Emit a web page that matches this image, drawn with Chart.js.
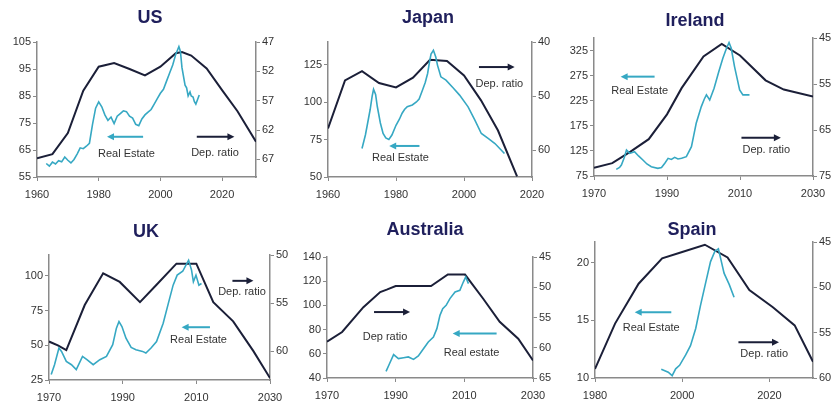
<!DOCTYPE html>
<html>
<head>
<meta charset="utf-8">
<script src="https://cdn.jsdelivr.net/npm/chart.js@4.4.1/dist/chart.umd.min.js"></script>
<style>
html, body { margin: 0; padding: 0; background: #fff; }
body { width: 835px; height: 401px; position: relative; overflow: hidden; }
canvas { position: absolute; }
</style>
</head>
<body>
<canvas id="us" width="300" height="209" style="left:0;top:0"></canvas>
<canvas id="japan" width="296" height="209" style="left:280px;top:0"></canvas>
<canvas id="ireland" width="280" height="208" style="left:555px;top:0"></canvas>
<canvas id="uk" width="292" height="212" style="left:0;top:200px"></canvas>
<canvas id="australia" width="266" height="210" style="left:292px;top:200px"></canvas>
<canvas id="spain" width="286" height="210" style="left:549px;top:200px"></canvas>
<script>
// dependency ratio (right axis, inverted) and real estate index (left axis)
var usDepYears = [1960, 1965, 1970, 1975, 1980, 1985, 1990, 1995, 2000, 2005, 2007, 2010, 2015, 2020, 2025, 2031];
var usDep = [66.8, 66.1, 62.5, 55.3, 51.2, 50.6, 51.6, 52.7, 51.2, 48.9, 48.7, 49.3, 51.5, 55.2, 58.8, 64.0];
var usRealEstate = [[1963, 60.0], [1964, 59.0], [1965, 60.5], [1966, 59.8], [1967, 61.0], [1968, 60.6], [1969, 62.4],
    [1970, 61.2], [1971, 60.2], [1972, 61.5], [1973, 63.5], [1974, 65.8], [1975, 65.5], [1976, 66.4], [1977, 67.5],
    [1978, 74.5], [1979, 80.5], [1980, 82.8], [1981, 81.0], [1982, 78.0], [1983, 76.0], [1984, 77.2], [1985, 74.8],
    [1986, 77.5], [1987, 78.5], [1988, 79.5], [1989, 79.2], [1990, 77.5], [1991, 76.8], [1992, 74.5], [1993, 74.0],
    [1994, 76.5], [1995, 78.0], [1996, 79.0], [1997, 80.0], [1998, 82.0], [1999, 84.0], [2000, 86.0], [2001, 87.5],
    [2002, 90.5], [2003, 93.5], [2004, 96.5], [2005, 100.5], [2006, 103.3], [2006.5, 101.5], [2007, 95.5],
    [2008, 89.0], [2008.5, 88.0], [2009, 85.0], [2009.6, 86.5], [2010, 85.0], [2010.6, 84.6], [2011, 83.0],
    [2011.5, 82.0], [2012, 83.5], [2012.6, 85.4]];

var jpDepYears = [1960, 1965, 1970, 1975, 1980, 1985, 1990, 1995, 2000, 2005, 2010, 2015.6];
var jpDep = [56.0, 47.1, 45.4, 47.6, 48.4, 46.6, 43.3, 43.5, 46.2, 50.8, 56.4, 64.9];
var jpRealEstate = [[1970, 69], [1971, 78], [1971.5, 84], [1972.4, 95], [1973, 104], [1973.4, 108.5], [1974, 105],
    [1974.5, 97], [1975.4, 86], [1976.2, 79], [1977, 76], [1977.9, 75], [1978.8, 78], [1980, 84.5], [1981, 88.5],
    [1981.8, 92.5], [1982.5, 95], [1983.3, 96.8], [1984.8, 98], [1986, 100], [1986.8, 102], [1987.8, 108],
    [1988.6, 113], [1989.3, 119], [1989.8, 126], [1990.3, 132], [1991, 134.5], [1991.7, 130], [1992.2, 124.6],
    [1993.2, 116.8], [1994.7, 114.6], [1996.7, 109.7], [1998.7, 104.6], [2001.2, 96.8], [2003.2, 87.9],
    [2005.1, 79], [2007.1, 75.7], [2009.1, 72.3], [2010.5, 69], [2011.9, 65.7]];

var ieDepYears = [1970, 1975, 1980, 1985, 1990, 1994, 2000, 2005, 2010, 2017, 2022, 2030];
var ieDep = [73.2, 72.2, 69.7, 67.0, 61.6, 55.9, 49.0, 46.3, 48.8, 54.2, 56.2, 57.7];
var ieRealEstate = [[1976.1, 88.3], [1977, 92], [1977.5, 96.9], [1978.3, 112], [1978.9, 126.9], [1979.8, 120],
    [1981.1, 123.5], [1982.2, 115], [1983.4, 106.9], [1984.5, 99], [1985.7, 93.6], [1987.5, 90.3], [1988.5, 92],
    [1989.4, 100.3], [1990.3, 110.2], [1991.2, 108], [1992.1, 112.2], [1993, 109], [1994, 110.2], [1995.3, 113.6],
    [1996.7, 133.5], [1997.3, 155], [1998, 180], [1999.4, 213.3], [2000.2, 228], [2000.8, 236.6], [2001.7, 226.6],
    [2002.9, 249.9], [2004.2, 283.1], [2005.3, 309.7], [2006.3, 329.6], [2007, 341], [2007.6, 329.6],
    [2008.5, 293], [2009.3, 266.5], [2009.9, 246.5], [2010.8, 236.6], [2012.6, 236.6]];

var ukDepYears = [1970, 1972.4, 1974.7, 1979.7, 1984.7, 1989.2, 1994.7, 1999.2, 2004.6, 2010, 2014.6, 2020, 2025.5, 2030];
var ukDep = [59.0, 59.4, 59.9, 55.2, 51.9, 52.8, 54.9, 53.1, 50.9, 50.9, 54.9, 56.9, 60.0, 62.8];
var ukRealEstate = [[1970.6, 28.9], [1971.5, 36], [1972.7, 48], [1973.4, 45.6], [1974.7, 38.4], [1976.1, 36],
    [1977.4, 32.5], [1979.1, 42], [1980.3, 39.6], [1982, 36], [1983.8, 39.6], [1985.6, 42], [1987.3, 50.4],
    [1988.3, 62.3], [1989, 67.1], [1989.8, 63.5], [1990.9, 55.1], [1992.3, 48.4], [1993.6, 46.8], [1995.4, 45.6],
    [1996.3, 44.4], [1997.7, 48], [1999.2, 52.7], [2001, 65.9], [2002.4, 80.2], [2003.7, 93.3], [2004.8, 100.5],
    [2006.3, 103.3], [2007.4, 108.8], [2007.9, 111.2], [2008.7, 104.1], [2009.2, 95.7], [2009.9, 100.5],
    [2010.7, 93.3], [2011.4, 94.5]];

var auDepYears = [1970, 1974.4, 1980.6, 1985.5, 1987.4, 1990, 1994, 2000.3, 2005.2, 2010.2, 2015.5, 2020.3, 2025.7, 2030];
var auDep = [59.0, 57.4, 53.3, 50.8, 50.4, 49.8, 49.8, 49.8, 47.9, 47.9, 51.9, 55.7, 58.5, 62.1];
var auRealEstate = [[1987.2, 45.5], [1988.2, 51.8], [1989.4, 59.3], [1990.8, 56], [1992.3, 56.8], [1993.7, 57.4],
    [1995.2, 55.4], [1996.6, 58.2], [1998.1, 64.2], [1999.5, 69.8], [2001, 73.9], [2002, 80.8], [2002.9, 91.8],
    [2003.7, 97.3], [2004.7, 100.1], [2005.8, 105.6], [2007.3, 111.1], [2008.7, 112.5], [2009.7, 119.3],
    [2010.4, 123.5], [2011.2, 118]];

var esDepYears = [1980, 1984.6, 1990, 1995.4, 2000, 2005.2, 2010.4, 2015.4, 2020.8, 2025.8, 2030];
var esDep = [59.0, 54.0, 49.6, 46.8, 46.1, 45.3, 46.7, 50.3, 52.2, 54.2, 58.2];
var esRealEstate = [[1995.2, 10.75], [1996.8, 10.5], [1997.7, 10.2], [1998.5, 10.8], [1999.4, 11.1], [2000.8, 12],
    [2001.9, 12.8], [2003.1, 14.3], [2004.2, 16.3], [2005.4, 18.3], [2006.5, 20.1], [2007.5, 21], [2008.3, 21.2],
    [2008.8, 20.4], [2009.6, 19.1], [2010.8, 18.1], [2011.9, 17]];

// tick labels
var usXTicks = [1960, 1980, 2000, 2020], usLeftTicks = [55, 65, 75, 85, 95, 105], usRightTicks = [47, 52, 57, 62, 67];
var jpXTicks = [1960, 1980, 2000, 2020], jpLeftTicks = [50, 75, 100, 125], jpRightTicks = [40, 50, 60];
var ieXTicks = [1970, 1990, 2010, 2030], ieLeftTicks = [75, 125, 175, 225, 275, 325], ieRightTicks = [45, 55, 65, 75];
var ukXTicks = [1970, 1990, 2010, 2030], ukLeftTicks = [25, 50, 75, 100], ukRightTicks = [50, 55, 60];
var auXTicks = [1970, 1990, 2010, 2030], auLeftTicks = [40, 60, 80, 100, 120, 140], auRightTicks = [45, 50, 55, 60, 65];
var esXTicks = [1980, 2000, 2020], esLeftTicks = [10, 15, 20], esRightTicks = [45, 50, 55, 60];

var FONT = '"Liberation Sans", Arial, sans-serif';
var DEP_COLOR = '#1b1f38';
var RE_COLOR = '#36a8c3';
var AXIS_COLOR = '#8a8a8a';

var notesPlugin = {
    id: 'notes',
    afterDatasetsDraw: function (chart, args, opts) {
        var ctx = chart.ctx, xs = chart.scales.x, ys = chart.scales.y;
        ctx.save();
        (opts.items || []).forEach(function (n) {
            if (n.text) {
                ctx.font = '11px ' + FONT;
                ctx.fillStyle = '#333';
                ctx.textAlign = 'center';
                ctx.textBaseline = 'middle';
                ctx.fillText(n.text, xs.getPixelForValue(n.x), ys.getPixelForValue(n.y));
            } else {
                var x1 = xs.getPixelForValue(n.from), x2 = xs.getPixelForValue(n.to), y = ys.getPixelForValue(n.y);
                var dir = x2 > x1 ? 1 : -1;
                ctx.strokeStyle = n.color;
                ctx.fillStyle = n.color;
                ctx.lineWidth = 2;
                ctx.beginPath();
                ctx.moveTo(x1, y);
                ctx.lineTo(x2 - dir * 5, y);
                ctx.stroke();
                ctx.beginPath();
                ctx.moveTo(x2, y);
                ctx.lineTo(x2 - dir * 7, y - 3.5);
                ctx.lineTo(x2 - dir * 7, y + 3.5);
                ctx.closePath();
                ctx.fill();
            }
        });
        ctx.restore();
    }
};

function toPoints(xs, ys) {
    return xs.map(function (x, i) { return { x: x, y: ys[i] }; });
}

function fixedTicks(vals) {
    return function (scale) {
        scale.ticks = vals.map(function (v) { return { value: v }; });
    };
}

function axisGrid() {
    return { drawOnChartArea: false, drawTicks: true, tickLength: 4, color: AXIS_COLOR };
}

function makeChart(id, c) {
    new Chart(document.getElementById(id), {
        type: 'line',
        data: {
            datasets: [{
                label: 'Real Estate',
                data: c.realEstate.map(function (p) { return { x: p[0], y: p[1] }; }),
                yAxisID: 'y',
                borderColor: RE_COLOR,
                borderWidth: 1.6,
                pointRadius: 0,
                tension: 0
            }, {
                label: 'Dep. ratio',
                data: toPoints(c.depYears, c.dep),
                yAxisID: 'y2',
                borderColor: DEP_COLOR,
                borderWidth: 2,
                pointRadius: 0,
                tension: 0
            }]
        },
        options: {
            responsive: false,
            animation: false,
            events: [],
            layout: { padding: { left: 0, right: 0, top: 0, bottom: 2 } },
            scales: {
                x: {
                    type: 'linear', min: c.xMin, max: c.xMax,
                    afterBuildTicks: fixedTicks(c.xTicks),
                    afterFit: function (s) { s.height = 30; },
                    grid: axisGrid(),
                    border: { color: AXIS_COLOR, width: 1.5 },
                    ticks: { font: { family: FONT, size: 11 }, color: '#333', padding: 7, maxRotation: 0, autoSkip: false,
                        callback: function (v) { return String(v); } }
                },
                y: {
                    position: 'left', min: c.yMin, max: c.yMax,
                    afterBuildTicks: fixedTicks(c.yTicks),
                    afterFit: function (s) { s.width = c.wl; },
                    grid: axisGrid(),
                    border: { color: AXIS_COLOR, width: 1.5 },
                    ticks: { font: { family: FONT, size: 11 }, color: '#333', padding: 2 }
                },
                y2: {
                    position: 'right', reverse: true, min: c.rMin, max: c.rMax,
                    afterBuildTicks: fixedTicks(c.rTicks),
                    afterFit: function (s) { s.width = c.wr; },
                    grid: axisGrid(),
                    border: { color: AXIS_COLOR, width: 1.5 },
                    ticks: { font: { family: FONT, size: 11 }, color: '#333', padding: 2 }
                }
            },
            plugins: {
                legend: { display: false },
                tooltip: { enabled: false },
                title: {
                    display: true, text: c.title, color: '#1f1f5c',
                    font: { family: FONT, size: 18, weight: 'bold', lineHeight: 1 },
                    padding: { top: c.titleTop, bottom: c.titleBottom }
                },
                notes: { items: c.notes }
            }
        },
        plugins: [notesPlugin]
    });
}

makeChart('us', {
    title: 'US', titleTop: 9, titleBottom: 15, wl: 37, wr: 44,
    depYears: usDepYears, dep: usDep, realEstate: usRealEstate,
    xMin: 1960, xMax: 2031, xTicks: usXTicks,
    yMin: 55, yMax: 105, yTicks: usLeftTicks,
    rMin: 47, rMax: 70, rTicks: usRightTicks,
    notes: [
        { text: 'Real Estate', x: 1989, y: 63.5 },
        { from: 1994.4, to: 1982.7, y: 69.9, color: RE_COLOR },
        { text: 'Dep. ratio', x: 2017.7, y: 63.8 },
        { from: 2011.8, to: 2024, y: 69.9, color: DEP_COLOR }
    ]
});

makeChart('japan', {
    title: 'Japan', titleTop: 9, titleBottom: 15, wl: 48, wr: 44,
    depYears: jpDepYears, dep: jpDep, realEstate: jpRealEstate,
    xMin: 1960, xMax: 2020, xTicks: jpXTicks,
    yMin: 50, yMax: 140, yTicks: jpLeftTicks,
    rMin: 40, rMax: 65, rTicks: jpRightTicks,
    notes: [
        { text: 'Real Estate', x: 1981.3, y: 62.9 },
        { from: 1986.9, to: 1978, y: 70.7, color: RE_COLOR },
        { text: 'Dep. ratio', x: 2010.4, y: 112.3 },
        { from: 2004.4, to: 2014.9, y: 123.3, color: DEP_COLOR }
    ]
});

makeChart('ireland', {
    title: 'Ireland', titleTop: 12, titleBottom: 8, wl: 39, wr: 22,
    depYears: ieDepYears, dep: ieDep, realEstate: ieRealEstate,
    xMin: 1970, xMax: 2030, xTicks: ieXTicks,
    yMin: 75, yMax: 350, yTicks: ieLeftTicks,
    rMin: 45, rMax: 75, rTicks: ieRightTicks,
    notes: [
        { text: 'Real Estate', x: 1982.5, y: 244.6 },
        { from: 1986.6, to: 1977.3, y: 273, color: RE_COLOR },
        { text: 'Dep. ratio', x: 2017.2, y: 126.9 },
        { from: 2010.4, to: 2021.2, y: 151.4, color: DEP_COLOR }
    ]
});

makeChart('uk', {
    title: 'UK', titleTop: 23, titleBottom: 14, wl: 49, wr: 22,
    depYears: ukDepYears, dep: ukDep, realEstate: ukRealEstate,
    xMin: 1970, xMax: 2030, xTicks: ukXTicks,
    yMin: 25, yMax: 115, yTicks: ukLeftTicks,
    rMin: 50, rMax: 63, rTicks: ukRightTicks,
    notes: [
        { text: 'Real Estate', x: 2010.6, y: 53.9 },
        { from: 2013.7, to: 2006, y: 63, color: RE_COLOR },
        { text: 'Dep. ratio', x: 2022.4, y: 88.5 },
        { from: 2019.8, to: 2025.5, y: 96.4, color: DEP_COLOR }
    ]
});

makeChart('australia', {
    title: 'Australia', titleTop: 21, titleBottom: 18, wl: 35, wr: 25,
    depYears: auDepYears, dep: auDep, realEstate: auRealEstate,
    xMin: 1970, xMax: 2030, xTicks: auXTicks,
    yMin: 40, yMax: 140, yTicks: auLeftTicks,
    rMin: 45, rMax: 65, rTicks: auRightTicks,
    notes: [
        { text: 'Dep ratio', x: 1986.9, y: 73.9 },
        { from: 1983.7, to: 1994.2, y: 94.5, color: DEP_COLOR },
        { text: 'Real estate', x: 2012.1, y: 61 },
        { from: 2019.4, to: 2006.6, y: 76.7, color: RE_COLOR }
    ]
});

makeChart('spain', {
    title: 'Spain', titleTop: 21, titleBottom: 3, wl: 46, wr: 22,
    depYears: esDepYears, dep: esDep, realEstate: esRealEstate,
    xMin: 1980, xMax: 2030, xTicks: esXTicks,
    yMin: 10, yMax: 21.8, yTicks: esLeftTicks,
    rMin: 45, rMax: 60, rTicks: esRightTicks,
    notes: [
        { text: 'Real Estate', x: 1992.9, y: 14.35 },
        { from: 1997.5, to: 1989.1, y: 15.7, color: RE_COLOR },
        { text: 'Dep. ratio', x: 2018.8, y: 12.1 },
        { from: 2012.9, to: 2022.2, y: 13.1, color: DEP_COLOR }
    ]
});
</script>
</body>
</html>
